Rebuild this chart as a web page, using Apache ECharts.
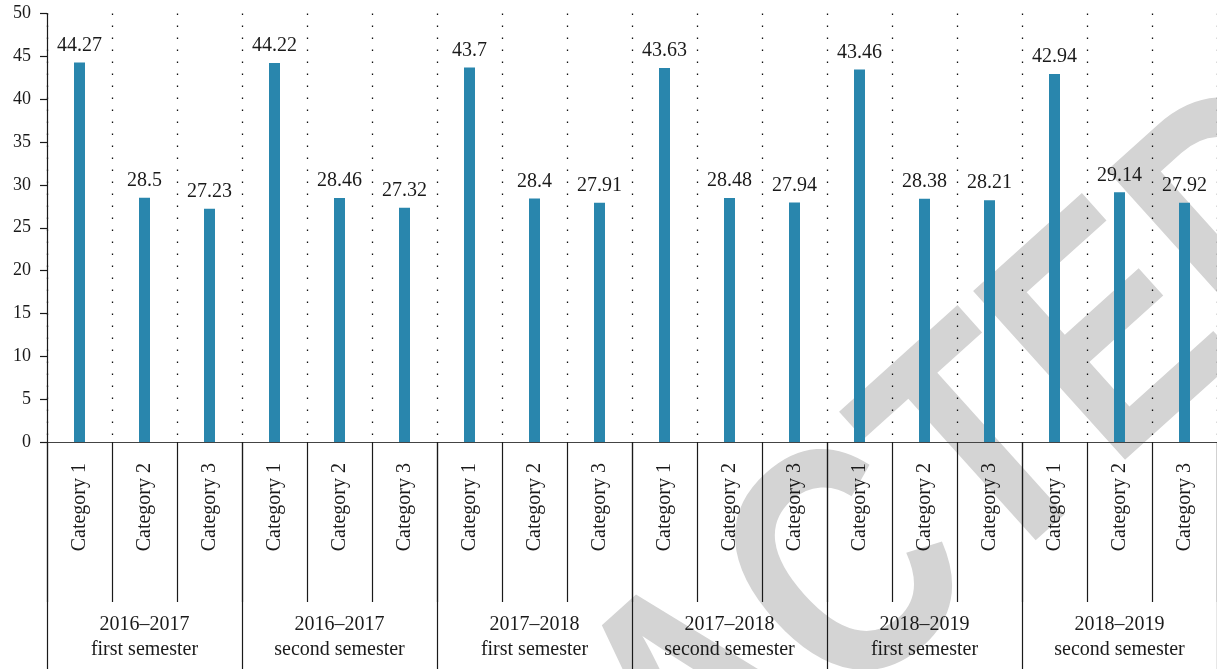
<!DOCTYPE html>
<html>
<head>
<meta charset="utf-8">
<script src="https://cdn.jsdelivr.net/npm/echarts@6/dist/echarts.min.js"></script>
<style>
  html, body { margin: 0; padding: 0; background: #fff; }
  #chart { width: 1217px; height: 669px; }
</style>
</head>
<body>
<div id="chart"></div>
<script>
// Bar heights per category within each semester
const categories = [
  'Category 1', 'Category 2', 'Category 3',
  'Category 1', 'Category 2', 'Category 3',
  'Category 1', 'Category 2', 'Category 3',
  'Category 1', 'Category 2', 'Category 3',
  'Category 1', 'Category 2', 'Category 3',
  'Category 1', 'Category 2', 'Category 3'
];
const semesters = [
  '2016–2017\nfirst semester',
  '2016–2017\nsecond semester',
  '2017–2018\nfirst semester',
  '2017–2018\nsecond semester',
  '2018–2019\nfirst semester',
  '2018–2019\nsecond semester'
];
const values = [
  44.27, 28.5, 27.23,
  44.22, 28.46, 27.32,
  43.7, 28.4, 27.91,
  43.63, 28.48, 27.94,
  43.46, 28.38, 28.21,
  42.94, 29.14, 27.92
];
const yTicks = { min: 0, max: 50, step: 5 };

const serif = '"Liberation Serif", "Times New Roman", serif';
const ink = '#1a1a1a';

const chart = echarts.init(document.getElementById('chart'), null, { renderer: 'canvas' });

chart.setOption({
  animation: false,
  backgroundColor: '#ffffff',
  grid: { left: 47, top: 13.5, width: 1176, bottom: 227, containLabel: false },
  graphic: [{
    // diagonal stamp behind the plot
    type: 'text',
    z: -10,
    silent: true,
    x: 710,
    y: 711,
    scaleX: 0.82,
    rotation: 42 * Math.PI / 180,
    style: {
      text: 'RETRACTED',
      fill: '#d4d4d4',
      font: 'bold 330px "Liberation Sans", Arial, sans-serif',
      textAlign: 'center',
      textVerticalAlign: 'middle'
    }
  }],
  xAxis: [
    {
      type: 'category',
      data: categories,
      position: 'bottom',
      boundaryGap: true,
      axisLine: { show: true, lineStyle: { color: '#444', width: 1.2 } },
      axisTick: { show: true, interval: 0, length: 160, lineStyle: { color: ink, width: 1.2 } },
      axisLabel: {
        interval: 0,
        rotate: 90,
        margin: 21,
        fontFamily: serif,
        fontSize: 20,
        color: ink
      },
      splitLine: {
        show: true,
        interval: 0,
        lineStyle: { color: '#111', width: 1.3, type: [1.4, 10.6] }
      }
    },
    {
      type: 'category',
      data: semesters,
      position: 'bottom',
      boundaryGap: true,
      axisLine: { show: false },
      axisTick: { show: true, interval: 0, length: 227, lineStyle: { color: ink, width: 1.2 } },
      axisLabel: {
        interval: 0,
        margin: 170,
        fontFamily: serif,
        fontSize: 20,
        lineHeight: 25,
        color: ink,
        align: 'center'
      },
      splitLine: { show: false }
    }
  ],
  yAxis: {
    type: 'value',
    min: yTicks.min,
    max: yTicks.max,
    interval: yTicks.step,
    axisLine: { show: true, lineStyle: { color: ink, width: 1.2 } },
    axisTick: { show: true, length: 7, lineStyle: { color: ink, width: 1.2 } },
    axisLabel: { margin: 16, fontFamily: serif, fontSize: 18, color: ink },
    splitLine: { show: false }
  },
  series: [{
    type: 'bar',
    xAxisIndex: 0,
    data: values,
    barWidth: 11,
    itemStyle: { color: '#2986ad' },
    label: {
      show: true,
      position: 'top',
      distance: 7,
      fontFamily: serif,
      fontSize: 20,
      color: ink
    }
  }]
});
</script>
</body>
</html>
